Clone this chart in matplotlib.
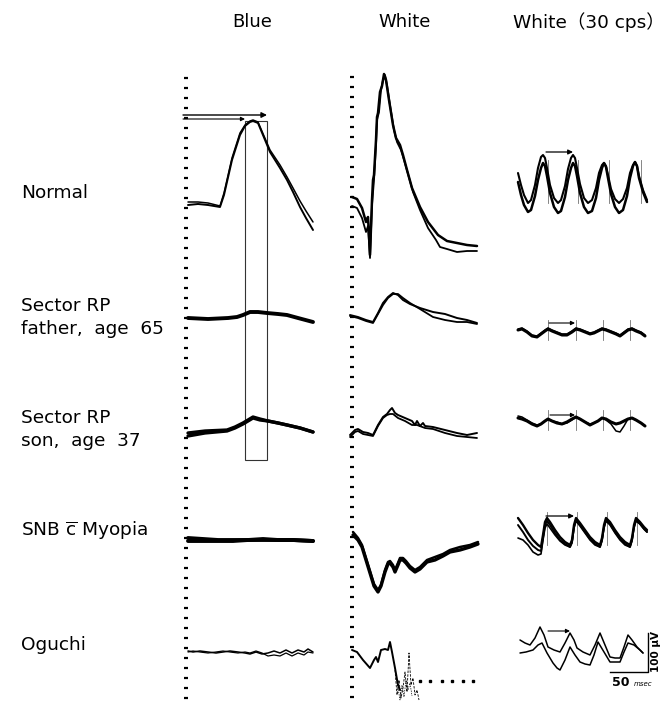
import numpy as np
import matplotlib
matplotlib.use("Agg")
import matplotlib.pyplot as plt
from matplotlib.patches import Rectangle

plt.rcParams['font.family'] = ['DejaVu Sans', 'Noto Sans CJK JP']
plt.rcParams['mathtext.fontset'] = 'custom'
plt.rcParams['mathtext.rm'] = 'DejaVu Sans'

# ---------------- text ----------------
column_titles = ["Blue", "White", "White\uff0830 cps\uff09"]
row_labels = [["Normal"], ["Sector RP", "father,  age  65"], ["Sector RP", "son,  age  37"],
              [r"SNB $\overline{\mathrm{c}}$ Myopia"], ["Oguchi"]]
scale_v_label = "100 \u00b5V"
scale_t_label = "50"
scale_t_unit = "msec"

# ---------------- data (time offset, amplitude, arbitrary units) ----------------
# Blue column
blue_normal_t = [0, 10, 20, 32, 36, 44, 52, 57, 62, 65, 70, 82, 92, 99, 105, 112, 118, 125]
blue_normal_a1 = [0, 1, 0, -2, 10, 45, 70, 79, 83, 84, 82, 53, 37, 25, 13, -2, -13, -25]
blue_normal_a2 = [3, 3, 2, -1, 12, 47, 72, 80, 84, 85, 83, 55, 40, 28, 17, 4, -6, -17]

blue_father_t = [0, 20, 40, 49, 55, 62, 70, 79, 90, 99, 110, 125]
blue_father_a = [0, -1, 0, 1, 3, 6, 6, 5, 4, 3, 0, -4]

blue_son_t = [0, 17, 39, 47, 55, 65, 72, 80, 90, 99, 112, 125]
blue_son_a1 = [0, 2, 3, 6, 10, 16, 14, 12, 10, 8, 5, 1]
blue_son_a2 = [-3, 0, 2, 5, 9, 15, 13, 12, 10, 8, 5, 1]

blue_snb_t = [0, 15, 30, 45, 60, 75, 90, 105, 125]
blue_snb_a1 = [2, 1, 0, 0, 0, 1, 0, 0, -1]
blue_snb_a2 = [-1, -1, -1, -1, 0, 0, 0, 0, -1]

blue_oguchi_t = [0, 5, 12, 20, 28, 35, 42, 50, 57, 62, 68, 74, 80, 86, 92, 98, 104, 110, 116, 120, 125]
blue_oguchi_a1 = [1, 0, 1, 0, -1, 0, 1, 0, -1, -2, 0, -2, -1, 1, -1, 2, -1, 2, 0, 3, 0]
blue_oguchi_a2 = [0, 1, 0, -1, 0, 1, 0, -1, 0, -1, 1, -1, -4, -3, -4, -1, -4, -1, -3, 0, -1]

# White column
white_normal_t1 = [1, 6, 11, 15, 17, 19, 21, 22, 23, 25, 26, 27, 29, 31, 33, 35, 38, 42, 45, 49,
                   52, 56, 61, 69, 77, 87, 96, 106, 116, 126]
white_normal_a1 = [0, -2, -11, -25, -20, -58, -3, 17, 22, 57, 80, 84, 105, 111, 123, 117, 97, 72, 59, 52,
                   42, 27, 9, -10, -25, -38, -44, -46, -48, -49]
white_normal_t2 = [1, 6, 11, 15, 17, 19, 21, 23, 25, 26, 28, 30, 32, 34, 36, 39, 43, 46, 50, 53,
                   57, 62, 69, 77, 85, 89, 96, 106, 116, 126]
white_normal_a2 = [-9, -11, -21, -35, -29, -61, -8, 17, 52, 77, 85, 107, 117, 122, 112, 92, 67, 55, 47, 37,
                   23, 5, -13, -31, -43, -50, -52, -55, -54, -54]

white_father_t = [-1, 7, 15, 22, 27, 32, 37, 42, 47, 52, 59, 69, 82, 94, 106, 116, 126]
white_father_a1 = [0, -2, -5, -7, 2, 12, 18, 22, 20, 15, 11, 7, 3, 1, -3, -5, -8]
white_father_a2 = [-1, -3, -6, -8, 1, 10, 17, 21, 21, 17, 12, 6, -2, -5, -7, -7, -9]

white_son_t1 = [-1, 4, 7, 12, 17, 22, 27, 32, 36, 39, 41, 44, 47, 54, 61, 64, 66, 69, 72, 74, 82, 94, 106, 116, 126]
white_son_a1 = [0, 5, 6, 3, 2, 0, 10, 18, 21, 25, 27, 22, 20, 17, 14, 10, 14, 9, 12, 9, 8, 5, 2, 0, 2]
white_son_t2 = [-1, 4, 7, 12, 17, 22, 27, 32, 36, 39, 42, 47, 54, 61, 66, 74, 82, 94, 106, 116, 126]
white_son_a2 = [-2, 3, 4, 1, 0, -1, 9, 17, 20, 21, 21, 17, 14, 10, 10, 7, 6, 2, -1, -2, -3]

white_snb_t = [2, 7, 11, 15, 19, 23, 27, 30, 34, 37, 39, 42, 44, 47, 49, 52, 55, 59, 64, 69,
               76, 84, 92, 99, 109, 119, 127]
white_snb_a1 = [0, -5, -12, -25, -38, -51, -57, -51, -37, -29, -28, -32, -37, -30, -25, -25, -28, -33, -37, -34,
                -27, -25, -21, -17, -15, -12, -9]
white_snb_a2 = [3, -3, -10, -23, -36, -49, -55, -50, -35, -27, -26, -30, -35, -28, -23, -23, -26, -31, -35, -32,
                -25, -22, -19, -15, -12, -10, -7]

white_oguchi_t = [1, 6, 12, 19, 23, 25, 27, 30, 34, 37, 39, 41, 44, 47, 49]
white_oguchi_a = [0, -2, -10, -18, -10, -7, -12, 0, 1, 0, 8, -2, -18, -35, -40]
white_oguchi_t2 = [44, 46, 48, 50, 52, 54, 56, 58, 60, 62, 64, 66, 68]
white_oguchi_a2 = [-20, -45, -30, -48, -38, -22, -42, -3, -35, -28, -45, -40, -50]
white_oguchi_t3 = [45, 47, 49, 51, 53, 55, 57, 59, 61]
white_oguchi_a3 = [-25, -38, -50, -35, -47, -30, -40, -33, -46]
ganzfeld_dots_t = [69, 79, 91, 101, 112, 122]

# White 30 cps column
flk_normal_t = [0, 3, 6, 10, 13, 17, 20, 23, 25, 27, 29, 32, 36, 40, 43, 47, 50, 53, 55, 57, 59, 62,
                66, 70, 74, 78, 81, 84, 86, 88, 90, 93, 97, 101, 105, 109, 112, 115, 117, 119, 121, 125, 129]
flk_normal_a1 = [0, -12, -22, -30, -27, -12, 5, 16, 18, 15, 5, -12, -25, -30, -27, -13, 4, 15, 18, 15, 5, -11,
                 -25, -30, -27, -15, 0, 8, 10, 7, -2, -16, -26, -30, -26, -15, 0, 8, 11, 7, -3, -17, -27]
flk_normal_a2 = [-9, -22, -32, -39, -37, -23, -7, 5, 10, 7, -3, -20, -34, -40, -38, -24, -7, 5, 10, 7, -3, -20,
                 -34, -40, -38, -25, -7, 5, 10, 6, -5, -21, -34, -40, -37, -23, -5, 7, 11, 7, -5, -19, -29]
flk_normal_marks = [30, 60, 91, 123]

flk_father_t = [0, 4, 9, 14, 19, 23, 27, 30, 34, 39, 44, 49, 54, 58, 62, 67, 72, 76, 80, 84, 88,
                93, 98, 102, 106, 110, 114, 118, 123, 127]
flk_father_a1 = [0, 1, -2, -6, -7, -4, -1, 1, -1, -3, -5, -5, -2, 1, 0, -2, -4, -3, -1, 1, 0,
                 -2, -4, -6, -3, 0, 1, -1, -3, -6]
flk_father_a2 = [1, 2, -1, -5, -6, -3, 0, 2, 0, -2, -4, -4, -1, 2, 1, -1, -3, -2, 0, 2, 1,
                 -1, -3, -5, -2, 1, 2, 0, -2, -5]

flk_son_t = flk_father_t
flk_son_a1 = [0, -1, -3, -6, -8, -6, -3, -1, -3, -5, -6, -4, -1, 1, -1, -4, -7, -5, -3, 0, -1,
              -4, -6, -5, -3, -1, 0, -2, -5, -8]
flk_son_a2 = [2, 1, -2, -5, -7, -6, -3, -1, -3, -4, -6, -5, -2, 1, -1, -4, -6, -5, -3, 0, -2,
              -6, -13, -14, -8, -1, 0, -2, -5, -8]
flk_small_marks = [30, 58, 85, 112]

flk_snb_t = [0, 5, 10, 15, 20, 23, 25, 27, 29, 32, 37, 42, 47, 52, 54, 56, 58, 62, 67, 72, 77, 82,
             84, 86, 88, 92, 97, 102, 107, 112, 114, 116, 118, 122, 126, 129]
flk_snb_a1 = [0, -7, -15, -22, -27, -29, -17, -4, 0, -4, -12, -19, -24, -27, -22, -7, 0, -5, -12, -19, -24, -27,
              -20, -7, 0, -4, -12, -19, -24, -27, -20, -7, 0, -4, -9, -12]
flk_snb_a2 = [-7, -14, -22, -28, -32, -33, -20, -7, -3, -7, -15, -22, -26, -29, -24, -9, -2, -7, -14, -21, -26, -29,
              -22, -9, -2, -6, -14, -21, -26, -29, -22, -9, -2, -6, -11, -14]
flk_snb_a3 = [-20, -22, -27, -34, -37, -36, -22, -10, -6, -10, -17, -23, -27, -29, -25, -10, -3, -8, -15, -22, -27, -29,
              -23, -10, -3, -7, -15, -22, -27, -29, -23, -10, -3, -6, -11, -14]
flk_snb_marks = [29, 59, 89, 119]

flk_oguchi_t1 = [2, 7, 12, 17, 22, 26, 30, 36, 42, 47, 52, 56, 59, 65, 72, 77, 82, 87, 92, 97, 102, 106, 110, 114, 119, 125]
flk_oguchi_a1 = [0, -3, -5, 2, 13, 5, -7, -10, -12, -3, 7, 0, -8, -12, -15, -5, 7, -5, -17, -18, -18, -7, 5, 0, -7, -13]
flk_oguchi_t2 = [2, 8, 15, 20, 24, 29, 35, 39, 42, 47, 52, 57, 62, 67, 72, 76, 80, 86, 92, 97, 102, 106, 110, 116, 122, 125]
flk_oguchi_a2 = [-13, -12, -10, -5, -3, -13, -23, -28, -30, -20, -7, -15, -22, -24, -25, -15, -2, -12, -22, -22, -22, -12, -3, -5, -10, -13]

# ---------------- layout ----------------
W, H = 671, 706
col_x = [188, 351, 518]
fig = plt.figure(figsize=(W / 100, H / 100), dpi=100)
ax = fig.add_axes([0, 0, 1, 1])
ax.set_xlim(0, W)
ax.set_ylim(H, 0)
ax.axis('off')

def trace(x0, y0, t, a, lw=1.3, color='black', **kw):
    ax.plot(x0 + np.asarray(t, float), y0 - np.asarray(a, float), color=color, lw=lw,
            solid_joinstyle='round', solid_capstyle='round', **kw)

def arrow(x0, x1, y, lw=0.9, ms=7):
    ax.annotate('', xy=(x1, y), xytext=(x0, y),
                arrowprops=dict(arrowstyle='-|>', lw=lw, color='black', mutation_scale=ms,
                                shrinkA=0, shrinkB=0))

def marks(x0, xs, y_top, y_bot, color='0.45', lw=0.6):
    for m in xs:
        ax.plot([x0 + m, x0 + m], [y_top, y_bot], color=color, lw=lw)

# titles
ax.text(252, 22, column_titles[0], ha='center', va='center', fontsize=13)
ax.text(405, 22, column_titles[1], ha='center', va='center', fontsize=13)
ax.text(589, 22, column_titles[2], ha='center', va='center', fontsize=13.3)

# row labels (one text per line)
label_y = [[193], [306, 329], [418, 441], [531], [645]]
for lines, ys in zip(row_labels, label_y):
    for s, y in zip(lines, ys):
        ax.text(21, y, s, ha='left', va='center', fontsize=13.3)

# dotted vertical reference columns
d1 = np.arange(78, 704, 10)
ax.plot(np.full_like(d1, 185.5, dtype=float), d1, ls='none', marker='_', ms=3, mew=1.6, color='black')
d2 = np.arange(77, 701, 10)
ax.plot(np.full_like(d2, 351.5, dtype=float), d2, ls='none', marker='_', ms=3, mew=1.6, color='black')

# ---- Blue column ----
x0 = col_x[0]
trace(x0, 205, blue_normal_t, blue_normal_a1, lw=1.4)
trace(x0, 205, blue_normal_t, blue_normal_a2, lw=1.1)
arrow(183, 267, 115, lw=1.0, ms=8)
arrow(183, 245, 119, lw=0.8, ms=6)
ax.add_patch(Rectangle((245, 121), 22, 339, fill=False, lw=0.8, edgecolor='0.2'))
trace(x0, 318, blue_father_t, blue_father_a, lw=2.8)
trace(x0, 433, blue_son_t, blue_son_a1, lw=2.4)
trace(x0, 433, blue_son_t, blue_son_a2, lw=2.4)
trace(x0, 540, blue_snb_t, blue_snb_a1, lw=2.8)
trace(x0, 540, blue_snb_t, blue_snb_a2, lw=2.8)
trace(x0, 652, blue_oguchi_t, blue_oguchi_a1, lw=1.1)
trace(x0, 652, blue_oguchi_t, blue_oguchi_a2, lw=0.9)

# ---- White column ----
x0 = col_x[1]
trace(x0, 197, white_normal_t1, white_normal_a1, lw=1.8)
trace(x0, 197, white_normal_t2, white_normal_a2, lw=1.3)
trace(x0, 315, white_father_t, white_father_a1, lw=1.4)
trace(x0, 315, white_father_t, white_father_a2, lw=1.3)
trace(x0, 435, white_son_t1, white_son_a1, lw=1.4)
trace(x0, 435, white_son_t2, white_son_a2, lw=1.3)
trace(x0, 535, white_snb_t, white_snb_a1, lw=2.4)
trace(x0, 535, white_snb_t, white_snb_a2, lw=1.8)
trace(x0, 650, white_oguchi_t, white_oguchi_a, lw=1.4)
trace(x0, 650, white_oguchi_t2, white_oguchi_a2, lw=0.6, ls=(0, (3, 1.5)))
trace(x0, 650, white_oguchi_t3, white_oguchi_a3, lw=0.5, ls=(0, (2, 1.5)))
ax.plot(x0 + np.asarray(ganzfeld_dots_t, float), np.full(len(ganzfeld_dots_t), 681.0),
        ls='none', marker='s', ms=2.0, color='black')

# ---- White 30 cps column ----
x0 = col_x[2]
marks(x0, flk_normal_marks, 160, 203)
trace(x0, 173, flk_normal_t, flk_normal_a1, lw=1.5)
trace(x0, 173, flk_normal_t, flk_normal_a2, lw=1.8)
arrow(546, 573, 152, lw=0.9, ms=7)

marks(x0, flk_small_marks, 320, 340)
trace(x0, 330, flk_father_t, flk_father_a1, lw=2.2)
trace(x0, 330, flk_father_t, flk_father_a2, lw=1.1)
arrow(549, 575, 323, lw=0.8, ms=6)

marks(x0, flk_small_marks, 410, 430)
trace(x0, 418, flk_son_t, flk_son_a1, lw=2.2)
trace(x0, 418, flk_son_t, flk_son_a2, lw=1.1)
arrow(550, 575, 415, lw=0.8, ms=6)

marks(x0, flk_snb_marks, 512, 545)
trace(x0, 518, flk_snb_t, flk_snb_a1, lw=1.7)
trace(x0, 518, flk_snb_t, flk_snb_a2, lw=1.4)
trace(x0, 518, flk_snb_t, flk_snb_a3, lw=1.2)
arrow(546, 574, 516, lw=0.9, ms=7)

trace(x0, 640, flk_oguchi_t1, flk_oguchi_a1, lw=1.1)
trace(x0, 640, flk_oguchi_t2, flk_oguchi_a2, lw=1.1)
arrow(548, 570, 631, lw=0.8, ms=6)

# scale bar
ax.plot([648, 648, 610], [633, 672, 672], color='black', lw=1.0)
ax.text(656, 652, scale_v_label, rotation=90, ha='center', va='center', fontsize=7.5, fontweight='bold')
ax.text(621, 683, scale_t_label, ha='center', va='center', fontsize=9, fontweight='bold')
ax.text(643, 684, scale_t_unit, ha='center', va='center', fontsize=5, style='italic')

fig.savefig('out.png', dpi=100)
